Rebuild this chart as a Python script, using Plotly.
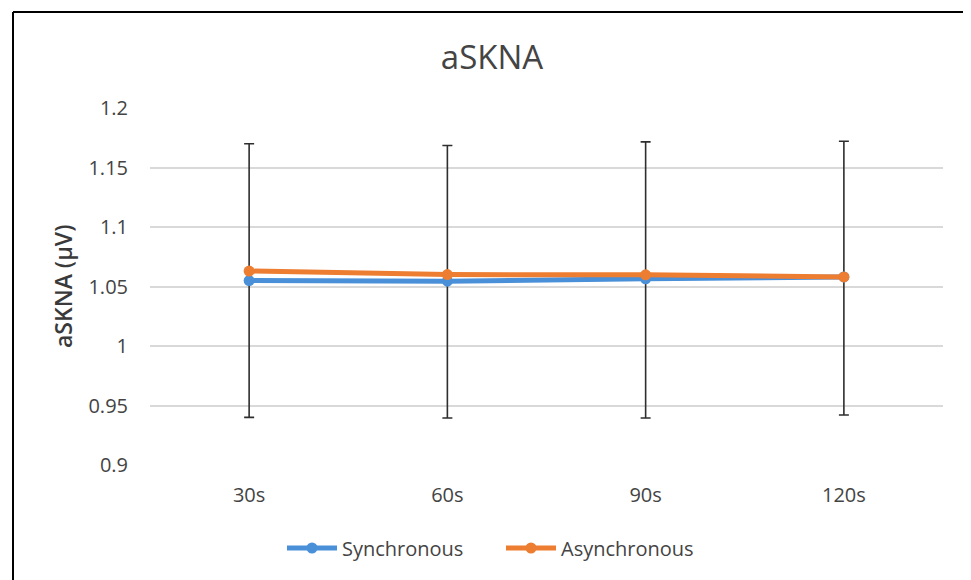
import plotly.graph_objects as go

categories = ["30s", "60s", "90s", "120s"]
sync_values = [1.055, 1.0545, 1.0565, 1.058]
async_values = [1.063, 1.060, 1.0598, 1.058]
sync_err_up = [0.115, 0.114, 0.115, 0.114]
sync_err_down = [0.115, 0.115, 0.117, 0.116]
y_ticks = [0.9, 0.95, 1.0, 1.05, 1.1, 1.15, 1.2]
y_tick_labels = ["0.9", "0.95", "1", "1.05", "1.1", "1.15", "1.2"]

FONT = "Open Sans"
TXT = "#444444"
BLUE = "#4A90D9"
ORANGE = "#ED7D31"

fig = go.Figure()
fig.add_trace(go.Scatter(
    x=categories, y=sync_values, name="Synchronous", mode="lines+markers",
    line=dict(color=BLUE, width=5), marker=dict(color=BLUE, size=11),
    error_y=dict(type="data", symmetric=False, array=sync_err_up,
                 arrayminus=sync_err_down, color="#2e2e2e", thickness=1.6, width=5),
))
fig.add_trace(go.Scatter(
    x=categories, y=async_values, name="Asynchronous", mode="lines+markers",
    line=dict(color=ORANGE, width=5), marker=dict(color=ORANGE, size=11),
))

OFF = 8  # page body margin
L, R, T, B = 150 - OFF, 28, 108 - OFF, 115
pw, ph = 793, 357
W, H = L + pw + R, T + ph + B

def px_x(px):
    return (px - OFF - L) / pw

def px_y(py):
    return (T + ph - (py - OFF)) / ph

fig.update_layout(
    width=W, height=H,
    margin=dict(l=L, r=R, t=T, b=B),
    paper_bgcolor="white", plot_bgcolor="white",
    font=dict(family=FONT, color=TXT, size=20),
    title=dict(text="aSKNA", x=(492 - OFF) / W, xanchor="center", y=1 - (57 - OFF) / H,
               yanchor="middle", font=dict(family=FONT, size=33, color=TXT)),
    showlegend=True,
    legend=dict(orientation="h", x=px_x(501), xanchor="center", y=px_y(548), yanchor="middle",
                font=dict(family=FONT, size=20, color=TXT), itemwidth=50,
                entrywidth=154, entrywidthmode="pixels",
                bgcolor="rgba(0,0,0,0)"),
    xaxis=dict(type="category", range=[-0.5, 3.5], showgrid=False, zeroline=False,
               showline=False, ticks="", tickfont=dict(size=20, color=TXT),
               ticklabelstandoff=16),
    yaxis=dict(range=[0.9, 1.2], tickvals=y_ticks, ticktext=y_tick_labels,
               showgrid=True, gridcolor="#d9d9d9", gridwidth=1.5, zeroline=False,
               showline=False, ticks="", tickfont=dict(size=20, color=TXT),
               ticklabelstandoff=21),
    annotations=[dict(text="aSKNA (μV)", textangle=-90, xref="paper", yref="paper",
                      x=px_x(63), y=px_y(287), xanchor="center", yanchor="middle",
                      showarrow=False,
                      font=dict(family=FONT, size=23, color="#3a3a3a", weight=600))],
    shapes=[
        dict(type="line", xref="paper", yref="paper", x0=px_x(13), x1=px_x(971),
             y0=px_y(12), y1=px_y(12), line=dict(color="black", width=2)),
        dict(type="line", xref="paper", yref="paper", x0=px_x(13), x1=px_x(13),
             y0=px_y(12), y1=px_y(600), line=dict(color="black", width=2)),
        dict(type="line", xref="paper", yref="paper", x0=px_x(969), x1=px_x(969),
             y0=px_y(12), y1=px_y(600), line=dict(color="#c0c0c0", width=1)),
    ],
)

fig.write_html("out.html")
